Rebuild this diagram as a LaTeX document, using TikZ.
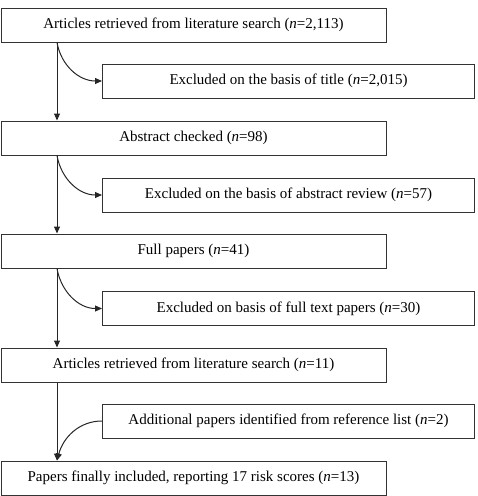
\documentclass[tikz,border=0pt]{standalone}
\usepackage{fontspec}
\setmainfont{Liberation Serif}
\usetikzlibrary{arrows.meta}
\begin{document}
\begin{tikzpicture}[x=1pt,y=-1pt,
  box/.style={draw=black!80,line width=1pt,rectangle,inner sep=0pt,font=\fontsize{15}{17}\selectfont},
  lbox/.style={box,minimum width=385pt,minimum height=34pt},
  rbox/.style={box,minimum width=372pt,minimum height=34pt},
  arr/.style={draw=black!85,line width=1pt,-{Triangle[length=7pt,width=6pt]}}]
\useasboundingbox (0,0) rectangle (478,496);
\coordinate (vx) at (57,0);
\node[lbox] (b1) at (193.5,25) {Articles retrieved from literature search (\textit{n}=2,113)};
\node[rbox] (r1) at (288.5,81) {Excluded on the basis of title (\textit{n}=2,015)};
\node[lbox] (b2) at (193.5,138) {Abstract checked (\textit{n}=98)};
\node[rbox] (r2) at (288.5,195) {Excluded on the basis of abstract review (\textit{n}=57)};
\node[lbox] (b3) at (193.5,251) {Full papers (\textit{n}=41)};
\node[rbox] (r3) at (288.5,308.5) {Excluded on basis of full text papers (\textit{n}=30)};
\node[lbox] (b4) at (193.5,365) {Articles retrieved from literature search (\textit{n}=11)};
\node[rbox] (r4) at (288.5,421) {Additional papers identified from reference list (\textit{n}=2)};
\node[lbox] (b5) at (193.5,478) {Papers finally included, reporting 17 risk scores (\textit{n}=13)};
\draw[arr] (b1.south -| vx) -- (b2.north -| vx);
\draw[arr] (b1.south -| vx) to[out=-80,in=180] (r1.west);
\draw[arr] (b2.south -| vx) -- (b3.north -| vx);
\draw[arr] (b2.south -| vx) to[out=-80,in=180] (r2.west);
\draw[arr] (b3.south -| vx) -- (b4.north -| vx);
\draw[arr] (b3.south -| vx) to[out=-80,in=180] (r3.west);
\draw[arr] (b4.south -| vx) -- (b5.north -| vx);
\draw[arr] (r4.west) to[out=180,in=75] (b5.north -| vx);
\end{tikzpicture}
\end{document}
